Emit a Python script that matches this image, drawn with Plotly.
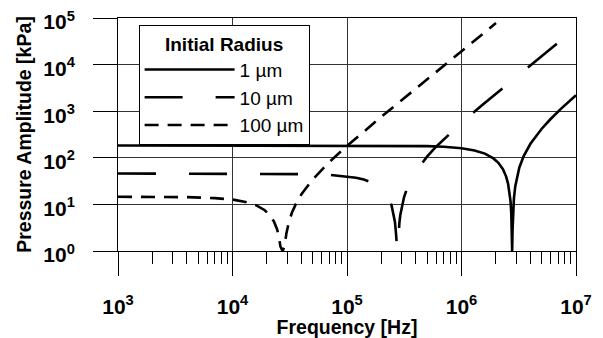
import plotly.graph_objects as go

# ---- data ----
series_names = ["1 µm", "10 µm", "100 µm"]

freq_1um = [1e3, 1e4, 1e5, 3e5, 5e5, 7e5, 1e6, 1.3e6, 1.6e6, 1.9e6, 2.1e6, 2.3e6,
            2.45e6, 2.55e6, 2.63e6, 2.68e6, 2.72e6, 2.75e6, 2.77e6, 2.79e6, 2.82e6,
            2.87e6, 2.95e6, 3.05e6, 3.2e6, 3.5e6, 4e6, 5e6, 6e6, 7.5e6, 1e7]
amp_1um = [184, 184, 184, 182, 178, 172, 160, 144, 123, 97, 78, 57,
           40, 28, 18, 11.8, 6.6, 2.7, 1.0, 2.7, 6.7,
           13.5, 24.7, 39, 62, 110, 200, 415, 680, 1165, 2210]

freq_10um = [1e3, 1e4, 3e4, 5e4, 7e4, 1e5, 1.2e5, 1.4e5, 1.6e5, 1.8e5, 2e5, 2.2e5,
             2.35e5, 2.45e5, 2.55e5, 2.62e5, 2.67e5, 2.71e5, 2.75e5, 2.79e5, 2.83e5,
             2.87e5, 2.92e5, 3e5, 3.15e5, 3.35e5, 3.6e5, 4e5, 5e5, 6e5, 8e5, 1e6,
             1.5e6, 2e6, 3e6, 4.5e6, 6.8e6]
amp_10um = [46, 46, 45.5, 44.5, 43, 40, 37.2, 34.1, 30.4, 26.3, 21.7, 16.6,
            12.4, 9.5, 6.4, 4.25, 2.64, 1.33, 1.0, 1.35, 2.7,
            4.1, 5.9, 8.7, 14.4, 22.3, 32.8, 51.3, 106, 173, 343, 562,
            1323, 2387, 5430, 12270, 28080]

freq_100um = [1e3, 2e3, 4e3, 7e3, 1e4, 1.3e4, 1.6e4, 1.9e4, 2.1e4, 2.3e4, 2.45e4,
              2.55e4, 2.62e4, 2.74e4, 2.86e4, 2.95e4, 3.1e4, 3.3e4, 3.6e4, 4e4,
              5e4, 7e4, 1e5, 2e5, 5e5, 1e6, 2e6]
amp_100um = [14.6, 14.5, 14.3, 13.65, 12.7, 11.3, 9.6, 7.6, 6.0, 4.3, 2.93,
             1.95, 1.25, 1.0, 1.31, 2.32, 4.1, 6.6, 10.6, 16.5,
             34, 80.7, 180, 763, 4850, 19430, 77770]

x_tick_vals = [1e3, 1e4, 1e5, 1e6, 1e7]
x_tick_text = ["10<sup>3</sup>", "10<sup>4</sup>", "10<sup>5</sup>", "10<sup>6</sup>", "10<sup>7</sup>"]
y_tick_vals = [1, 10, 100, 1e3, 1e4, 1e5]
y_tick_text = ["10<sup>0</sup>", "10<sup>1</sup>", "10<sup>2</sup>", "10<sup>3</sup>",
               "10<sup>4</sup>", "10<sup>5</sup>"]

x_title = "Frequency [Hz]"
y_title = "Pressure Amplitude [kPa]"
legend_title = "Initial Radius"

# ---- figure ----
freqs = [freq_1um, freq_10um, freq_100um]
amps = [amp_1um, amp_10um, amp_100um]
dashes = ["solid", "38px,33px", "14px,9px"]

fig = go.Figure()
for f, p, name, dash in zip(freqs, amps, series_names, dashes):
    fig.add_trace(go.Scatter(x=f, y=p, mode="lines", name=name,
                             line=dict(color="black", width=2.6, dash=dash)))

minor_vals = [m * 10 ** e for e in range(3, 7) for m in range(2, 10)]

FONT = "Liberation Sans, Arial, sans-serif"
# page body has an 8px margin, so the figure is 595x330 drawn at (8, 8)
fig.update_layout(
    width=595, height=330,
    margin=dict(l=110, r=27, t=10, b=87, autoexpand=False),
    paper_bgcolor="white", plot_bgcolor="white",
    font=dict(family=FONT, color="black"),
    showlegend=True,
    legend=dict(x=0.045, y=0.97, xanchor="left", yanchor="top",
                bgcolor="white", bordercolor="black", borderwidth=1,
                title=dict(text=legend_title, side="top center",
                           font=dict(size=19, weight="bold")),
                font=dict(size=19), itemwidth=90, tracegroupgap=0),
)
fig.update_xaxes(type="log", range=[3, 7], tickmode="array", automargin=False,
                 tickvals=x_tick_vals, ticktext=x_tick_text, ticklabeloverflow="allow",
                 ticks="outside", ticklen=24, tickcolor="black", tickwidth=1,
                 minor=dict(tickmode="array", tickvals=minor_vals, ticks="outside",
                            ticklen=12, tickcolor="black", tickwidth=1, showgrid=False),
                 showgrid=True, gridcolor="#333", gridwidth=1,
                 showline=True, linecolor="black", linewidth=1, mirror=True, zeroline=False,
                 tickfont=dict(size=21, weight="bold"), ticklabelstandoff=13,
                 title=dict(text=x_title, font=dict(size=19.5, weight="bold"), standoff=4))
fig.update_yaxes(type="log", range=[0, 5], tickmode="array", automargin=False,
                 tickvals=y_tick_vals, ticktext=y_tick_text, ticklabeloverflow="allow",
                 ticks="outside", ticklen=24, tickcolor="black", tickwidth=1,
                 showgrid=True, gridcolor="#333", gridwidth=1,
                 showline=True, linecolor="black", linewidth=1, mirror=True, zeroline=False,
                 tickfont=dict(size=21, weight="bold"), ticklabelstandoff=14,
                 ticklabelshift=4,
                 title=dict(text=y_title, font=dict(size=19.5, weight="bold"), standoff=6))

fig.write_html("out.html")
